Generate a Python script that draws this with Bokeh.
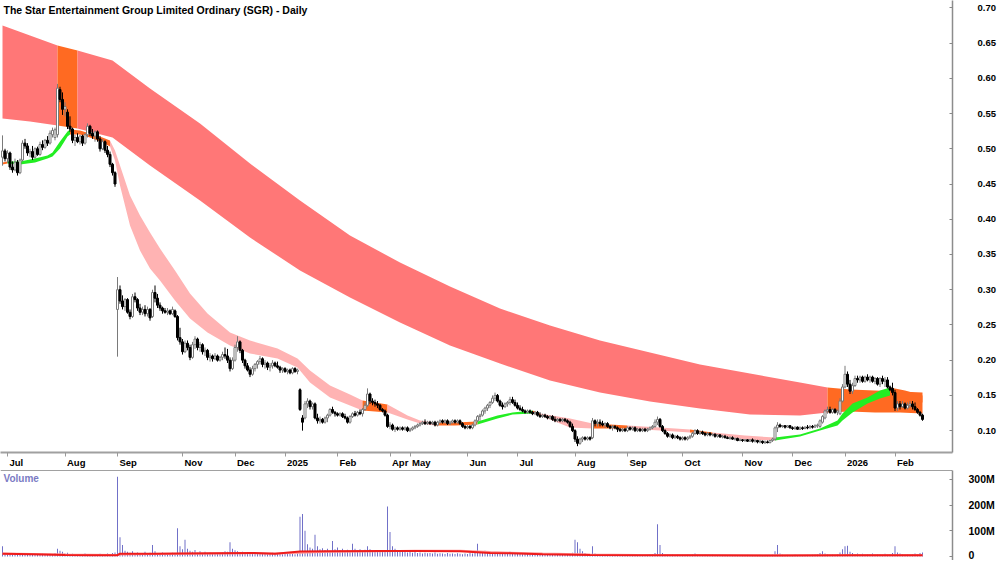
from bokeh.plotting import figure
from bokeh.models import Range1d, FixedTicker, Label, Span, ColumnDataSource, LinearAxis
from bokeh.layouts import column
from bokeh.embed import file_html
from bokeh.resources import INLINE

FONT = "Liberation Sans"

# ---------------- data ----------------
opens = [
 .488,.497,.486,.494,.474,.470,.481,.466,.484,.508,
 .504,.494,.496,.488,.500,.492,.506,.502,.512,.508,
 .520,.516,.520,.584,.570,.556,.552,.532,.528,.512,
 .516,.510,.518,.508,.520,.532,.522,.518,.524,.514,
 .500,.510,.498,.492,.478,.466,.272,.300,.284,.276,
 .286,.268,.262,.290,.286,.274,.268,.272,.266,.272,
 .262,.296,.288,.278,.274,.270,.268,.270,.266,.270,
 .262,.232,.226,.212,.224,.218,.204,.222,.230,.218,
 .222,.212,.214,.204,.206,.202,.206,.200,.204,.208,
 .206,.200,.188,.200,.218,.226,.214,.200,.192,.186,
 .180,.188,.194,.198,.202,.194,.196,.190,.192,.196,
 .192,.190,.186,.188,.184,.186,.182,.188,.184,.158,
 .118,.118,.138,.142,.134,.138,.118,.114,.116,.112,
 .118,.122,.130,.126,.124,.122,.124,.120,.118,.112,
 .120,.124,.122,.126,.124,.130,.136,.152,.142,.140,
 .138,.136,.130,.128,.122,.106,.108,.102,.104,.102,
 .104,.102,.104,.100,.102,.104,.106,.108,.110,.112,
 .110,.112,.110,.112,.108,.112,.114,.112,.114,.110,
 .112,.114,.112,.114,.110,.106,.104,.106,.104,.108,
 .114,.120,.122,.128,.132,.136,.140,.146,.150,.142,
 .136,.134,.138,.140,.144,.140,.136,.132,.130,.128,
 .126,.128,.126,.124,.126,.122,.120,.122,.120,.118,
 .120,.116,.114,.116,.114,.116,.114,.112,.106,.100,
 .088,.082,.088,.090,.088,.090,.090,.114,.110,.112,
 .110,.108,.110,.106,.104,.106,.104,.102,.100,.102,
 .100,.104,.102,.104,.100,.102,.100,.102,.100,.102,
 .104,.106,.112,.116,.106,.100,.096,.092,.094,.090,
 .092,.090,.088,.090,.088,.090,.092,.096,.100,.096,
 .098,.096,.094,.096,.094,.095,.092,.094,.091,.092,
 .090,.089,.090,.088,.089,.086,.087,.086,.087,.085,
 .087,.085,.086,.084,.085,.083,.084,.083,.086,.088,
 .104,.108,.106,.107,.105,.107,.104,.103,.105,.102,
 .104,.103,.105,.104,.106,.105,.107,.106,.112,.118,
 .128,.130,.126,.130,.126,.124,.142,.162,.180,.166,
 .156,.164,.174,.172,.176,.170,.176,.172,.176,.170,
 .174,.166,.174,.170,.172,.162,.160,.154,.132,.138,
 .134,.138,.132,.136,.138,.134,.130,.126,.122]

highs = [
 .519,.500,.498,.496,.482,.486,.484,.486,.512,.514,
 .508,.500,.504,.502,.503,.510,.512,.514,.518,.526,
 .530,.530,.592,.588,.580,.566,.556,.546,.530,.520,
 .522,.520,.520,.522,.536,.534,.528,.526,.526,.518,
 .514,.512,.504,.496,.480,.468,.318,.306,.292,.288,
 .288,.272,.294,.296,.288,.280,.276,.278,.276,.274,
 .300,.306,.294,.282,.276,.274,.274,.272,.276,.272,
 .264,.246,.230,.228,.228,.222,.226,.234,.232,.226,
 .224,.218,.216,.210,.208,.210,.208,.206,.212,.218,
 .216,.204,.204,.222,.234,.228,.216,.202,.196,.190,
 .192,.196,.200,.206,.204,.200,.198,.196,.200,.198,
 .198,.192,.190,.190,.188,.188,.190,.190,.188,.160,
 .122,.142,.146,.144,.140,.140,.124,.120,.118,.120,
 .124,.132,.134,.128,.126,.126,.126,.124,.120,.122,
 .126,.128,.128,.130,.132,.140,.160,.154,.146,.144,
 .142,.138,.132,.130,.124,.112,.110,.106,.106,.106,
 .106,.106,.106,.104,.106,.108,.110,.112,.114,.116,
 .114,.114,.114,.114,.114,.116,.116,.116,.116,.114,
 .116,.116,.116,.116,.112,.108,.108,.108,.110,.116,
 .122,.124,.130,.134,.138,.142,.150,.154,.152,.144,
 .140,.140,.142,.148,.148,.144,.140,.136,.134,.130,
 .130,.130,.128,.128,.128,.126,.124,.124,.122,.122,
 .122,.120,.118,.118,.118,.118,.116,.114,.110,.102,
 .092,.090,.092,.092,.092,.092,.118,.116,.116,.116,
 .114,.112,.112,.108,.108,.108,.106,.104,.104,.104,
 .106,.106,.106,.106,.104,.104,.104,.104,.104,.106,
 .108,.116,.120,.118,.108,.102,.098,.096,.096,.094,
 .094,.092,.092,.092,.092,.094,.098,.102,.102,.100,
 .100,.098,.098,.098,.096,.096,.095,.095,.094,.094,
 .092,.092,.092,.090,.090,.089,.088,.088,.088,.088,
 .089,.088,.087,.087,.086,.086,.086,.087,.090,.106,
 .112,.110,.108,.108,.108,.108,.106,.106,.106,.106,
 .106,.106,.108,.108,.108,.109,.110,.116,.122,.130,
 .134,.134,.132,.132,.130,.146,.166,.192,.184,.172,
 .168,.178,.178,.178,.178,.178,.180,.178,.178,.176,
 .176,.176,.178,.176,.176,.164,.168,.158,.142,.142,
 .142,.140,.140,.142,.142,.140,.132,.128,.124]

lows = [
 .476,.482,.480,.470,.466,.468,.462,.464,.482,.500,
 .490,.488,.484,.486,.490,.490,.498,.500,.504,.506,
 .516,.512,.516,.566,.548,.546,.528,.524,.508,.504,
 .508,.506,.504,.506,.516,.518,.514,.510,.510,.496,
 .498,.494,.488,.474,.462,.446,.205,.280,.272,.270,
 .266,.258,.260,.282,.270,.264,.264,.262,.262,.256,
 .260,.282,.274,.270,.266,.266,.264,.264,.264,.260,
 .228,.222,.208,.210,.214,.200,.202,.216,.214,.212,
 .208,.206,.200,.198,.198,.200,.198,.198,.200,.202,
 .196,.184,.186,.198,.212,.210,.196,.188,.184,.176,
 .178,.184,.188,.194,.190,.188,.186,.184,.188,.190,
 .188,.182,.182,.182,.180,.180,.180,.182,.180,.128,
 .100,.116,.132,.130,.130,.116,.110,.110,.110,.110,
 .112,.120,.124,.120,.120,.120,.118,.116,.110,.110,
 .118,.120,.120,.122,.120,.128,.134,.138,.136,.134,
 .132,.128,.126,.120,.104,.102,.100,.098,.100,.100,
 .100,.100,.098,.098,.100,.102,.104,.106,.108,.108,
 .108,.108,.108,.106,.106,.110,.110,.110,.108,.108,
 .110,.110,.110,.108,.104,.102,.102,.102,.102,.106,
 .112,.114,.120,.124,.128,.132,.138,.142,.140,.134,
 .130,.132,.134,.136,.138,.134,.130,.128,.126,.124,
 .124,.124,.122,.122,.120,.118,.118,.118,.116,.116,
 .114,.112,.112,.112,.112,.112,.110,.104,.098,.084,
 .078,.080,.084,.086,.086,.086,.088,.106,.106,.106,
 .106,.104,.104,.102,.100,.102,.098,.098,.098,.098,
 .098,.100,.100,.098,.098,.098,.098,.098,.098,.100,
 .102,.104,.108,.104,.098,.094,.090,.090,.088,.088,
 .088,.086,.086,.086,.086,.088,.090,.094,.094,.094,
 .094,.092,.092,.092,.092,.090,.090,.090,.089,.089,
 .088,.087,.087,.086,.085,.085,.084,.084,.084,.084,
 .083,.083,.082,.082,.081,.081,.082,.082,.084,.086,
 .098,.104,.104,.103,.104,.103,.101,.101,.101,.101,
 .101,.102,.102,.103,.103,.104,.104,.104,.110,.116,
 .124,.124,.124,.124,.122,.122,.140,.160,.162,.152,
 .152,.162,.168,.168,.168,.168,.170,.168,.168,.166,
 .164,.162,.166,.162,.160,.156,.150,.128,.128,.130,
 .132,.130,.130,.132,.130,.128,.124,.120,.114]

closes = [
 .497,.486,.494,.474,.470,.481,.466,.484,.508,.504,
 .494,.496,.488,.500,.492,.506,.502,.512,.508,.522,
 .526,.527,.586,.570,.556,.560,.532,.528,.512,.516,
 .510,.518,.508,.520,.532,.522,.518,.524,.514,.500,
 .510,.498,.492,.478,.466,.450,.300,.284,.276,.286,
 .268,.262,.290,.286,.274,.268,.272,.266,.272,.260,
 .296,.288,.278,.274,.270,.268,.270,.266,.272,.262,
 .232,.226,.212,.224,.218,.204,.222,.230,.218,.222,
 .212,.214,.204,.206,.202,.206,.200,.204,.208,.206,
 .200,.188,.200,.218,.226,.214,.200,.192,.186,.180,
 .188,.194,.198,.202,.194,.196,.190,.192,.196,.192,
 .190,.186,.188,.184,.186,.182,.188,.184,.186,.130,
 .112,.138,.142,.134,.138,.118,.114,.116,.112,.118,
 .122,.130,.126,.124,.122,.124,.120,.118,.112,.120,
 .124,.122,.126,.124,.130,.136,.152,.142,.140,.138,
 .136,.130,.128,.122,.106,.108,.102,.104,.102,.104,
 .102,.104,.100,.102,.104,.106,.108,.110,.112,.110,
 .112,.110,.112,.108,.112,.114,.112,.114,.110,.112,
 .114,.112,.114,.110,.106,.104,.106,.104,.108,.114,
 .120,.122,.128,.132,.136,.140,.146,.150,.142,.136,
 .134,.138,.140,.144,.140,.136,.132,.130,.128,.126,
 .128,.126,.124,.126,.122,.120,.122,.120,.118,.120,
 .116,.114,.116,.114,.116,.114,.112,.106,.100,.088,
 .082,.088,.090,.088,.090,.088,.114,.110,.112,.110,
 .108,.110,.106,.104,.106,.104,.102,.100,.102,.100,
 .104,.102,.104,.100,.102,.100,.102,.100,.102,.104,
 .106,.112,.116,.106,.100,.096,.092,.094,.090,.092,
 .090,.088,.090,.088,.090,.092,.096,.100,.096,.098,
 .096,.094,.096,.094,.095,.092,.094,.091,.092,.090,
 .089,.090,.088,.089,.086,.087,.086,.087,.085,.087,
 .085,.086,.084,.085,.083,.084,.083,.086,.088,.104,
 .108,.106,.107,.105,.107,.104,.103,.105,.102,.104,
 .103,.105,.104,.106,.105,.107,.108,.114,.120,.128,
 .130,.126,.130,.126,.128,.142,.162,.180,.166,.156,
 .164,.174,.172,.176,.170,.176,.172,.176,.170,.174,
 .166,.174,.170,.172,.162,.158,.154,.132,.138,.134,
 .138,.132,.136,.138,.134,.130,.126,.122,.116]

# volume, millions of shares
volumes = [
 40,12,8,10,6,9,14,7,11,8,6,9,13,7,10,8,12,9,7,11,
 10,14,30,22,18,12,15,9,11,8,10,7,9,12,8,10,6,9,7,11,
 8,10,12,9,14,16,310,75,45,22,18,15,20,12,16,14,10,18,12,15,
 45,20,14,12,16,10,13,11,15,9,110,40,28,65,30,22,18,25,15,20,
 14,18,12,16,10,14,11,13,16,20,18,55,30,24,20,16,18,14,12,15,
 12,16,10,14,11,13,9,12,15,10,12,14,9,11,13,10,12,9,14,155,
 165,100,48,35,30,85,40,28,32,25,30,22,60,28,35,25,30,22,26,20,
 50,30,24,28,20,26,40,28,22,25,20,24,18,22,195,95,40,30,24,20,
 18,22,16,20,15,18,14,16,12,15,13,14,12,16,11,13,12,10,14,11,
 12,10,13,11,9,12,10,14,12,16,50,20,18,22,16,20,15,18,14,12,
 16,12,14,18,12,10,14,11,9,12,10,8,11,9,10,8,12,7,9,8,
 10,7,9,8,6,9,7,12,15,65,55,30,20,14,10,8,40,12,9,8,
 7,9,6,8,5,7,6,8,5,7,6,9,5,7,6,8,5,6,7,9,
 10,14,125,45,14,10,8,7,9,6,8,5,7,6,8,5,9,12,7,6,
 5,7,6,5,8,6,5,7,4,6,5,7,4,6,5,4,6,5,7,4,
 5,6,4,7,5,4,6,5,8,20,45,12,8,6,7,5,6,8,5,7,
 6,5,7,6,8,9,10,14,20,12,10,8,9,7,10,16,28,40,42,18,
 14,10,12,9,11,8,10,9,12,8,10,9,7,11,8,10,14,40,16,12,
 10,8,9,7,10,12,9,14,16]

# volume averages (millions)
vma_idx = [0, 12, 25, 35, 46, 47, 60, 71, 85, 100, 109, 119, 130, 152, 165, 183, 195, 203, 216, 235, 254, 280, 310, 340, 368]
vma_red = [11, 9, 6, 5, 5, 11, 11, 12, 13, 14, 11, 19, 20, 21, 21, 20, 14, 13, 9, 6, 5, 5, 4, 5, 5]
vma_pink = [12, 10, 8, 7, 6, 8, 10, 11, 12, 13, 12, 15, 18, 20, 22, 22, 17, 15, 12, 8, 6, 5, 5, 5, 5]

# long-term moving-average ribbon
lt_idx = [0, 11, 22, 30, 44, 59, 79, 99, 119, 139, 159, 179, 199, 219, 239, 259, 279, 299, 319, 330, 339, 349, 359, 368]
lt_top = [0.6749, 0.6606, 0.6465, 0.6394, 0.6252, 0.5855, 0.5358, 0.4791, 0.4266, 0.3769, 0.3386, 0.3045,
          0.2733, 0.2492, 0.2279, 0.2109, 0.1939, 0.1811, 0.1683, 0.1612, 0.1584, 0.1570, 0.1555, 0.1541]
lt_bot = [0.5429, 0.5387, 0.5330, 0.5287, 0.5160, 0.4762, 0.4266, 0.3741, 0.3272, 0.2889, 0.2534, 0.2208,
          0.1952, 0.1711, 0.1541, 0.1413, 0.1314, 0.1229, 0.1215, 0.1257, 0.1271, 0.1257, 0.1257, 0.1243]
lt_col = ["r", "r", "o"] + ["r"] * 16 + ["o", "o", "o", "o"]

# short-term moving-average ribbon
st_idx = [0, 2, 7, 13, 18, 20, 23, 26, 27, 31, 35, 40, 43, 45, 47, 49, 51, 55, 59, 63,
          69, 75, 82, 91, 99, 110, 118, 123, 131, 139, 144, 149, 154, 162, 167, 173, 181, 190, 198, 204,
          212, 215, 227, 236, 243, 250, 263, 275, 284, 297, 309, 319, 327, 334, 336, 340, 346, 351, 355, 361, 368]
st_top = [.4805, .4819, .4819, .4862, .4904, .4947, .5103, .5245, .5273, .5259,
          .5216, .5160, .5117, .4975, .4762, .4549, .4336, .4052, .3811, .3584,
          .3272, .2946, .2662, .2392, .2279, .2166, .2024, .1853, .1641, .1513,
          .1428, .1399, .1371, .1215, .1144, .1116, .1116, .1130, .1215, .1257,
          .1286, .1243, .1172, .1102, .1087, .1073, .1045, .1016, .0974, .0931,
          .0903, .0945, .1031, .1144, .1243, .1385, .1470, .1570, .1612, .1570, .1499]
st_bot = [.4776, .4791, .4776, .4805, .4862, .4890, .5003, .5174, .5202, .5202,
          .5160, .5089, .5032, .4833, .4478, .4194, .3910, .3556, .3300, .3130,
          .2847, .2591, .2392, .2208, .2095, .2024, .1896, .1683, .1470, .1357,
          .1286, .1271, .1257, .1158, .1102, .1073, .1073, .1087, .1172, .1229,
          .1243, .1215, .1045, .1031, .1031, .1031, .1002, .0974, .0945, .0874,
          .0860, .0917, .1002, .1073, .1144, .1257, .1385, .1456, .1499, .1456, .1399]
st_col = ["o", "g", "g", "g", "g", "g", "g", "g", "o", "o",
          "o", "o", "p", "p", "p", "p", "p", "p", "p", "p",
          "p", "p", "p", "p", "p", "p", "p", "p", "p", "p",
          "o", "o", "p", "p", "p", "o", "o", "g", "g", "g",
          "o", "p", "p", "o", "o", "p", "p", "o", "p", "p",
          "g", "g", "g", "g", "g", "g", "g", "g", "o", "o"]

month_ticks = [2, 25, 46, 72, 93, 113, 134, 155, 163, 186, 206, 229, 250, 272, 296, 316, 337, 357]
month_labels = ["Jul", "Aug", "Sep", "Nov", "Dec", "2025", "Feb", "Apr", "May", "Jun",
                "Jul", "Aug", "Sep", "Oct", "Nov", "Dec", "2026", "Feb"]
price_ticks = [0.10, 0.15, 0.20, 0.25, 0.30, 0.35, 0.40, 0.45, 0.50, 0.55, 0.60, 0.65, 0.70]
price_labels = ["0.10", "0.15", "0.20", "0.25", "0.30", "0.35", "0.40", "0.45", "0.50", "0.55", "0.60", "0.65", "0.70"]
vol_ticks = [0, 100, 200, 300]
vol_labels = ["0", "100M", "200M", "300M"]

TITLE = "The Star Entertainment Group Limited Ordinary (SGR) - Daily"

# ---------------- styling helpers ----------------
COL = {"r": "#FF7777", "o": "#FF6A22", "g": "#22EE22", "p": "#FFB3B3"}
PX_PER_BAR = 2.5
# approximate widths (em) of bold Arial-metric glyphs, used to left-align month labels
GLYPH_EM = {"J": .556, "u": .611, "l": .278, "A": .722, "g": .611, "S": .667, "e": .556, "p": .611,
            "N": .722, "o": .611, "v": .556, "D": .722, "c": .556, "2": .556, "0": .556, "5": .556,
            "6": .556, "F": .611, "b": .611, "r": .389, "M": .833, "a": .556, "y": .556, "n": .611,
            "O": .778, "t": .333}
AX_FS = 9.5


def text_w(s, fs):
    return sum(GLYPH_EM.get(ch, .6) for ch in s) * fs


n = min(len(opens), len(highs), len(lows), len(closes), len(volumes))
xs = list(range(n))

p = figure(frame_width=952, frame_height=452, x_range=Range1d(-0.8, 380.0),
           y_range=Range1d(0.0690, 0.7104), y_axis_location="right",
           output_backend="svg", toolbar_location=None,
           min_border_left=0, min_border_top=0, min_border_bottom=0, min_border_right=0)
p.outline_line_color = None
p.grid.visible = False
p.background_fill_color = "white"


def ribbon(fig, idx, top, bot, cols):
    k = 0
    m = len(cols)
    while k < m:
        j = k
        while j + 1 < m and cols[j + 1] == cols[k]:
            j += 1
        a, b = k, j + 1
        fig.varea(x=idx[a:b + 1], y1=bot[a:b + 1], y2=top[a:b + 1], fill_color=COL[cols[k]])
        k = j + 1


ribbon(p, lt_idx, lt_top, lt_bot, lt_col)
ribbon(p, st_idx, st_top, st_bot, st_col)

up = dict(x=[], h=[], l=[], t=[], b=[])
dn = dict(x=[], h=[], l=[], t=[], b=[])
for i in range(n):
    d = up if closes[i] >= opens[i] else dn
    d["x"].append(i)
    d["h"].append(highs[i])
    d["l"].append(lows[i])
    d["t"].append(max(opens[i], closes[i]))
    d["b"].append(min(opens[i], closes[i]))

su = ColumnDataSource(up)
sd = ColumnDataSource(dn)
p.segment(x0="x", y0="h", x1="x", y1="l", source=su, line_color="#7a7a7a", line_width=1)
p.vbar(x="x", top="t", bottom="b", width=0.8, source=su, fill_color="white", line_color="#7a7a7a", line_width=1)
p.segment(x0="x", y0="h", x1="x", y1="l", source=sd, line_color="black", line_width=1)
p.vbar(x="x", top="t", bottom="b", width=0.8, source=sd, fill_color="black", line_color="black", line_width=1)

# price axis (right)
ya = p.yaxis[0]
ya.ticker = FixedTicker(ticks=price_ticks)
ya.major_label_overrides = {t: s for t, s in zip(price_ticks, price_labels)}
ya.minor_tick_line_color = None
ya.major_tick_in = 3
ya.major_tick_out = 0
ya.major_tick_line_color = "#888888"
ya.axis_line_color = "#8c8c8c"
ya.axis_line_width = 1.5
ya.major_label_standoff = 25
ya.major_label_text_font = FONT
ya.major_label_text_font_style = "bold"
ya.major_label_text_font_size = f"{AX_FS}px"
ya.major_label_text_color = "black"

# date axis: first axis carries the tick marks, second the left-aligned labels
xa = p.xaxis[0]
xa.ticker = FixedTicker(ticks=month_ticks)
xa.major_label_overrides = {t: "" for t in month_ticks}
xa.major_label_text_font_size = "0px"
xa.major_label_standoff = 0
xa.minor_tick_line_color = None
xa.major_tick_in = 0
xa.major_tick_out = 4
xa.major_tick_line_color = "#999999"
xa.axis_line_color = "#a0a0a0"
xa.axis_line_width = 2

label_pos = [t + (2 + text_w(s, AX_FS) / 2) / PX_PER_BAR for t, s in zip(month_ticks, month_labels)]
xl = LinearAxis(ticker=FixedTicker(ticks=label_pos),
                major_label_overrides={pos: s for pos, s in zip(label_pos, month_labels)})
xl.axis_line_color = None
xl.major_tick_line_color = None
xl.minor_tick_line_color = None
xl.major_tick_in = 0
xl.major_tick_out = 0
xl.major_label_standoff = 0
xl.major_label_text_font = FONT
xl.major_label_text_font_style = "bold"
xl.major_label_text_font_size = f"{AX_FS}px"
xl.major_label_text_color = "black"
p.add_layout(xl, "below")

p.add_layout(Label(x=3, y=449, x_units="screen", y_units="screen", text=TITLE,
                   text_font=FONT, text_font_style="bold", text_font_size="10.5px",
                   text_baseline="top", text_color="black"))

# ---------------- volume panel ----------------
v = figure(frame_width=952, frame_height=90, x_range=p.x_range,
           y_range=Range1d(-15.6, 334.6), y_axis_location="right", x_axis_location=None,
           output_backend="svg", toolbar_location=None,
           min_border_left=0, min_border_top=0, min_border_bottom=0, min_border_right=0)
v.outline_line_color = None
v.grid.visible = False
v.vbar(x=xs, top=volumes[:n], bottom=0, width=0.4, fill_color="#7070C8", line_color=None)
v.line(x=vma_idx, y=vma_pink, line_color="#FF9A9A", line_width=2)
v.line(x=vma_idx, y=vma_red, line_color="#EE1C1C", line_width=2)
v.add_layout(Span(location=334.6, dimension="width", line_color="#444444", line_width=1))

vy = v.yaxis[0]
vy.ticker = FixedTicker(ticks=vol_ticks)
vy.major_label_overrides = {t: s for t, s in zip(vol_ticks, vol_labels)}
vy.minor_tick_line_color = None
vy.major_tick_in = 3
vy.major_tick_out = 0
vy.major_tick_line_color = "#888888"
vy.axis_line_color = "#8c8c8c"
vy.axis_line_width = 1.5
vy.major_label_standoff = 16
vy.major_label_text_font = FONT
vy.major_label_text_font_style = "bold"
vy.major_label_text_font_size = "10.5px"
vy.major_label_text_color = "black"

v.add_layout(Label(x=3, y=88, x_units="screen", y_units="screen", text="Volume",
                   text_font=FONT, text_font_style="bold", text_font_size="10px",
                   text_baseline="top", text_color="#7B7BC4"))

layout = column(p, v, spacing=0)
open("out.html", "w").write(file_html(layout, INLINE))
